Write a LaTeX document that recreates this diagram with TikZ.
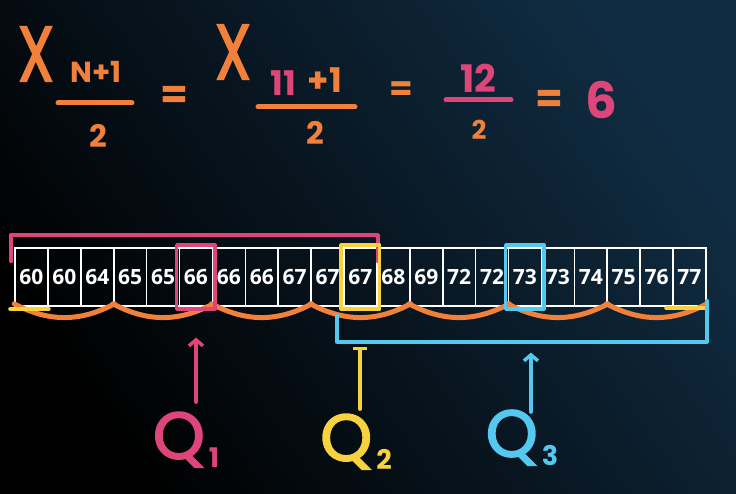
\documentclass[tikz,border=0pt]{standalone}
\usepackage{fontspec}
\setmainfont{Poppins}
\newfontfamily\cellfont{Open Sans}
\newfontfamily\markerfont{Poppins}[FakeBold=2.5]
\usetikzlibrary{arrows.meta,positioning,fit,calc}
\definecolor{chalkorange}{RGB}{240,128,58}
\definecolor{chalkpink}{RGB}{222,70,122}
\definecolor{chalkyellow}{RGB}{248,210,62}
\definecolor{chalkblue}{RGB}{84,200,238}
\definecolor{boardtop}{RGB}{16,44,66}
\newcommand\fsz[1]{\fontsize{#1}{#1}\selectfont}
\newcommand\qsub[1]{\kern4pt\raisebox{-0.14em}{\normalfont\bfseries\fsz{27}#1}}
\tikzset{
  cell/.style={draw=white,line width=1.6pt,minimum width=32.9pt,minimum height=58pt,
    inner sep=0pt,text=white,font=\cellfont\bfseries\fsz{21}},
  hand/.style={text=#1,inner sep=0pt},
  hand/.default=chalkorange,
  pen/.style={draw=#1,line width=4pt,line cap=round,line join=round},
  pen/.default=chalkorange,
  mark box/.style={pen=#1,line width=3.5pt,inner sep=2pt},
  up arrow/.style={pen=#1,-{Straight Barb[length=6pt,width=14pt,line width=3.5pt]}},
  up bar/.style={pen=#1,-{Bar[width=14pt,line width=3.5pt]}},
}

\begin{document}
\begin{tikzpicture}[x=1pt,y=-1pt]
  \shade[left color=black,right color=boardtop,shading angle=125]
    (0,0) rectangle (736,494);
  \useasboundingbox (0,0) rectangle (736,494);

  % median position formula
  \node[hand,font=\markerfont\fsz{78},xscale=0.75] (x1) at (36,54) {X};
  \node[hand,font=\bfseries\fsz{29}] (n1) at (96,72) {N+1};
  \draw[pen,line width=5pt] (58,103) -- (132,103);
  \node[hand,font=\bfseries\fsz{31}] (d1) at (98,136) {2};
  \node[hand,font=\bfseries\fsz{40}] (e1) at (174,97) {=};
  \node[hand,font=\markerfont\fsz{78},xscale=0.75] (x2) at (233,52) {X};
  \node[hand=chalkpink,font=\bfseries\fsz{34}] (n2) at (283,83) {11};
  \node[hand,font=\bfseries\fsz{34}] (p2) at (325,80) {+1};
  \draw[pen,line width=5pt] (258,107) -- (355,107);
  \node[hand,font=\bfseries\fsz{31}] (d2) at (315,133) {2};
  \node[hand,font=\bfseries\fsz{34}] (e2) at (401,91) {=};
  \node[hand=chalkpink,font=\bfseries\fsz{38}] (n3) at (478,78) {12};
  \draw[pen=chalkpink,line width=5pt] (446,100) -- (511,100);
  \node[hand,font=\bfseries\fsz{26}] (d3) at (479,130) {2};
  \node[hand,font=\bfseries\fsz{40}] (e3) at (549,101) {=};
  \node[hand=chalkpink,font=\bfseries\fsz{50}] (r) at (601,100) {6};

  % the ordered data
  \foreach \v [count=\i from 0] in {60,60,64,65,65,66,66,66,67,67,67,68,69,72,72,73,73,74,75,76,77}
    \node[cell] (c\i) at ({15+32.9*(\i+0.5)},277) {\v};

  % groups of three
  \foreach \a/\b in {0/2,3/5,6/8,9/11,12/14,15/17,18/20}
    \draw[pen,line width=5pt] ([yshift=3pt]c\a.south west) to[bend right=28] ([yshift=3pt]c\b.south east);
  \draw[pen=chalkyellow] ([shift={(-4pt,-2pt)}]c0.south west) -- ([yshift=-2pt]c0.south east);
  \draw[pen=chalkyellow] ([shift={(-6pt,-1pt)}]c20.south west) -- ([yshift=-1pt]c20.south east);

  % halves
  \draw[pen=chalkpink] ([shift={(-3pt,-14pt)}]c0.north west) -- ([shift={(-3pt,12pt)}]c0.north west)
    -| ([yshift=-14pt]c10.north east);
  \draw[pen=chalkblue] ([shift={(-6pt,-9pt)}]c10.south west) |- ([yshift=-35pt]c20.south east)
    -- ([yshift=6pt]c20.south east);

  % quartiles
  \node[mark box=chalkpink,fit=(c5)] (m1) {};
  \node[mark box=chalkyellow,fit=(c10)] (m2) {};
  \node[mark box=chalkblue,fit=(c15)] (m3) {};
  \node[hand=chalkpink,font=\markerfont\fsz{66}] (q1) at (186,440) {Q\qsub{1}};
  \node[hand=chalkyellow,font=\markerfont\fsz{66}] (q2) at (356,442) {Q\qsub{2}};
  \node[hand=chalkblue,font=\markerfont\fsz{66}] (q3) at (522,438) {Q\qsub{3}};
  \draw[up arrow=chalkpink] ([yshift=10pt]q1.north -| m1.south) -- ([yshift=-27pt]m1.south);
  \draw[up bar=chalkyellow] ([yshift=5pt]q2.north -| m2.south) -- ([yshift=-36pt]m2.south);
  \draw[up arrow=chalkblue] ([shift={(6pt,-2pt)}]q3.north -| m3.south) -- ([shift={(6pt,-42pt)}]m3.south);
\end{tikzpicture}
\end{document}
